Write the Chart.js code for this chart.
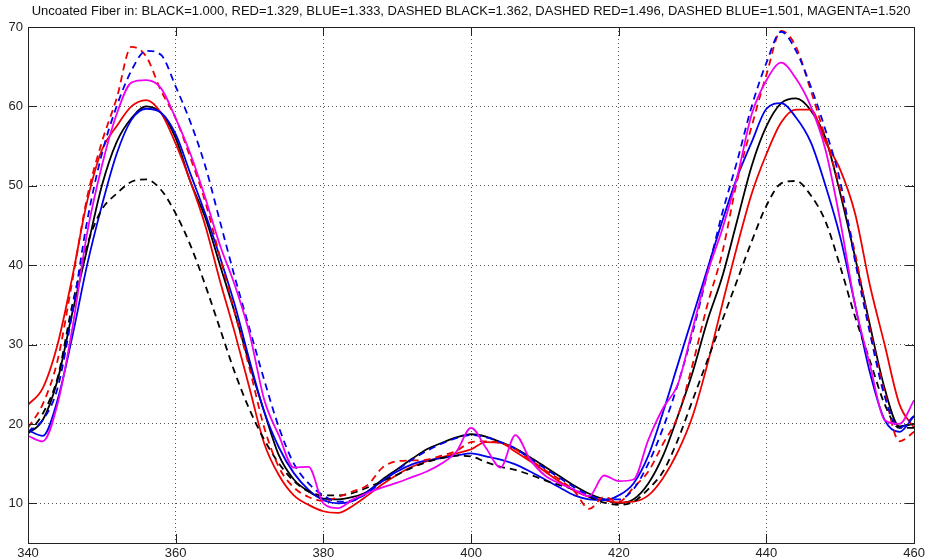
<!DOCTYPE html>
<html>
<head>
<meta charset="utf-8">
<script src="https://cdn.jsdelivr.net/npm/chart.js@4/dist/chart.umd.min.js"></script>
<style>
  body { margin: 0; background: #fff; }
  #wrap { width: 928px; height: 560px; }
</style>
</head>
<body>
<div id="wrap"><canvas id="grafico"></canvas></div>
<script>
// wavelength positions (shared by every curve)
const xValues = [340, 342, 344, 346, 348, 350, 352, 354, 356, 358,
                 360, 362, 364, 366, 368, 370, 372, 374, 376, 378,
                 380, 382, 384, 386, 388, 390, 392, 394, 396, 398,
                 400, 402, 404, 406, 408, 410, 412, 414, 416, 418,
                 420, 422, 424, 426, 428, 430, 432, 434, 436, 438,
                 440, 442, 444, 446, 448, 450, 452, 454, 456, 458, 460];

const xTicks = [340, 360, 380, 400, 420, 440, 460];
const yTicks = [10, 20, 30, 40, 50, 60, 70];

// one value per x position
const black = [18.8, 20.5, 25.5, 34, 42, 50, 55.5, 58.5, 60, 59.2,
               56, 50.5, 46, 40, 34, 27.5, 21.5, 16, 13, 11.5,
               10.6, 10.5, 10.8, 11.5, 13, 14.3, 15.6, 16.8, 17.6, 18.3,
               18.7, 18.4, 17.7, 16.9, 15.8, 14.6, 13.4, 12.2, 11.2, 10.5,
               10, 10.5, 12.5, 16, 21, 26.5, 33, 38.5, 45.5, 52.5,
               57.5, 60.4, 61, 59.5, 56, 49, 41, 32.5, 24.5, 19.7, 20];

const red = [22.4, 24.5, 30, 38.5, 48, 54.5, 57.5, 60, 60.8, 59.2,
             55.3, 50.5, 45, 38, 31.5, 24.5, 17.5, 13.5, 11, 9.8,
             9, 8.8, 9.7, 11, 12.4, 13.6, 14.6, 15.3, 15.8, 16.3,
             16.8, 17.7, 17.6, 16.5, 15.3, 14, 12.7, 11.6, 10.8, 10.4,
             10.1, 10.2, 11, 13.2, 16.5, 21, 27.5, 35, 42.3, 49,
             54, 58, 59.6, 59.6, 55.5, 52, 46.5, 37.5, 30, 22.5, 19.5];

const blue = [19.2, 18.5, 23, 31, 40, 47.5, 54, 58.3, 59.7, 59.2,
              56.5, 51.5, 46.5, 41, 35, 28, 21.5, 17, 13.8, 11.7,
              10.4, 10, 10.3, 11.5, 12.8, 14, 14.9, 15.4, 15.7, 16,
              16.3, 15.9, 15.5, 14.9, 14, 13, 12, 11, 10.5, 10.4,
              11, 12.5, 16, 21.5, 27.5, 33.5, 39.5, 45.5, 51, 55.5,
              59.7, 60.4, 58.6, 55.5, 50, 43.5, 35, 26.5, 20.5, 19, 21];

const blackDashed = [18.8, 21.3, 25.8, 35, 42.5, 47, 49, 50.5, 50.8, 49.5,
                     46.5, 42.5, 37.5, 32, 26.5, 21.8, 18, 15, 12.8, 11.5,
                     11, 11, 11.3, 12, 12.8, 13.6, 14.5, 15.2, 15.7, 16,
                     15.9, 15.2, 14.6, 14.2, 13.6, 12.9, 12.3, 11.7, 10.8, 10.1,
                     9.8, 10.2, 11.8, 14, 18, 23, 28, 33, 38, 43,
                     47.5, 50.3, 50.6, 48.8, 45.5, 39.8, 33.5, 28, 22.5, 19.5, 19.5];

const redDashed = [19.5, 22.5, 28, 38, 48.5, 55.5, 61, 67.5, 66.3, 62,
                   58.5, 53.5, 48, 41, 34, 27, 19.5, 14.5, 12, 10.8,
                   10.3, 10.8, 11.5, 12.3, 14.5, 15.3, 15.4, 15.5, 16, 16.6,
                   17.7, 17.8, 17.6, 16.8, 15.5, 14.2, 13, 11.5, 9.3, 10.8,
                   10.2, 12, 14, 17.5, 21, 27.5, 35, 41.5, 50.5, 57.5,
                   64, 69.5, 67.5, 62, 56, 49.5, 41.5, 32, 24, 17.8, 19];

const blueDashed = [19, 20.5, 24.5, 34, 45.5, 54, 60, 64.5, 67, 66.5,
                    62.5, 58, 52.5, 45.5, 38.5, 32, 25.5, 19.5, 15, 12.5,
                    11, 10.2, 10.4, 11.3, 12.8, 14.2, 15.5, 16.6, 17.5, 18.2,
                    18.6, 18.3, 17.7, 16.9, 15.6, 14.4, 13.2, 12, 11, 10.5,
                    10.5, 11.8, 15, 19.5, 25, 31.5, 39, 46.5, 53, 60,
                    65.5, 69.4, 67, 62.5, 57, 50.5, 40.5, 31.5, 23.5, 19.5, 21];

const magenta = [18.5, 17.8, 22.5, 32, 44, 52.5, 59, 63, 63.3, 62.3,
                 58.5, 54, 48.5, 42.5, 37.5, 31.4, 23, 18.5, 14.5, 14.6,
                 10, 9.4, 10.5, 11.3, 12, 12.6, 13.3, 14, 15, 16.5,
                 19.5, 17, 14.5, 18.6, 15.5, 13.5, 12.5, 11.7, 10.9, 13.5,
                 12.8, 13, 18, 22, 25, 32, 39, 44.5, 51, 59,
                 63.3, 65.5, 63.5, 60, 54.5, 45.5, 35, 27.5, 20.5, 20, 23];

const titleText = "Uncoated Fiber in: BLACK=1.000, RED=1.329, BLUE=1.333, DASHED BLACK=1.362, DASHED RED=1.496, DASHED BLUE=1.501, MAGENTA=1.520";

const series = [
  { name: "BLACK", vals: black, color: "#000000", dash: [] },
  { name: "RED", vals: red, color: "#ee0000", dash: [] },
  { name: "BLUE", vals: blue, color: "#0000ee", dash: [] },
  { name: "DASHED BLACK", vals: blackDashed, color: "#000000", dash: [7, 5] },
  { name: "DASHED RED", vals: redDashed, color: "#ee0000", dash: [7, 5] },
  { name: "DASHED BLUE", vals: blueDashed, color: "#0000ee", dash: [7, 5] },
  { name: "MAGENTA", vals: magenta, color: "#f000f0", dash: [] },
];

// moldura e ticks para dentro, estilo matlab
const caixa = {
  id: "caixa",
  afterDraw(chart) {
    const ctx = chart.ctx;
    const a = chart.chartArea;
    const sx = chart.scales.x, sy = chart.scales.y;
    const tl = 9;
    ctx.save();
    ctx.strokeStyle = "#222";
    ctx.lineWidth = 1;
    ctx.beginPath();
    xTicks.forEach(v => {
      const p = Math.round(sx.getPixelForValue(v)) + 0.5;
      ctx.moveTo(p, a.bottom); ctx.lineTo(p, a.bottom - tl);
      ctx.moveTo(p, a.top); ctx.lineTo(p, a.top + tl);
    });
    yTicks.forEach(v => {
      const p = Math.round(sy.getPixelForValue(v)) + 0.5;
      ctx.moveTo(a.left, p); ctx.lineTo(a.left + tl, p);
      ctx.moveTo(a.right, p); ctx.lineTo(a.right - tl, p);
    });
    ctx.stroke();
    ctx.strokeRect(Math.round(a.left) + 0.5, Math.round(a.top) + 0.5,
                   Math.round(a.right - a.left), Math.round(a.bottom - a.top));
    ctx.restore();
  }
};

const grafico = document.getElementById("grafico");

new Chart(grafico, {
  type: "line",
  data: {
    datasets: series.map((s, i) => ({
      label: s.name,
      data: xValues.map((x, k) => ({ x: x, y: s.vals[k] })),
      borderColor: s.color,
      borderDash: s.dash,
      borderWidth: 1.8,
      pointRadius: 0,
      fill: false,
      cubicInterpolationMode: "monotone",
      order: series.length - 1 - i
    }))
  },
  options: {
    responsive: true,
    maintainAspectRatio: false,
    animation: false,
    layout: { padding: { left: 0, right: 11, top: 0, bottom: 0 }, autoPadding: false },
    plugins: {
      legend: { display: false },
      tooltip: { enabled: false },
      title: { display: false }
    },
    scales: {
      x: {
        type: "linear",
        min: 340,
        max: 460,
        afterBuildTicks: s => { s.ticks = xTicks.map(v => ({ value: v })); },
        afterFit: s => { s.height = 17; },
        grid: { color: "#555", drawTicks: false },
        border: { display: false, dash: [1, 3] },
        ticks: { color: "#222", padding: 3, maxRotation: 0,
                 font: { family: "Liberation Sans", size: 13 } }
      },
      // eixo de cima so para o titulo ficar centrado na area do grafico
      topo: {
        type: "linear",
        position: "top",
        min: 340,
        max: 460,
        afterFit: s => { s.height = 27; },
        grid: { display: false },
        border: { display: false },
        ticks: { display: false },
        title: {
          display: true,
          text: titleText,
          color: "#111",
          font: { family: "Liberation Sans", size: 13, lineHeight: 1.2 },
          padding: { top: 4, bottom: 0 }
        }
      },
      y: {
        min: 5,
        max: 70,
        afterBuildTicks: s => { s.ticks = yTicks.map(v => ({ value: v })); },
        afterFit: s => { s.width = 28; },
        grid: { color: "#555", drawTicks: false },
        border: { display: false, dash: [1, 3] },
        ticks: { color: "#222", padding: 5,
                 font: { family: "Liberation Sans", size: 13 } }
      }
    }
  },
  plugins: [caixa]
});
</script>
</body>
</html>
